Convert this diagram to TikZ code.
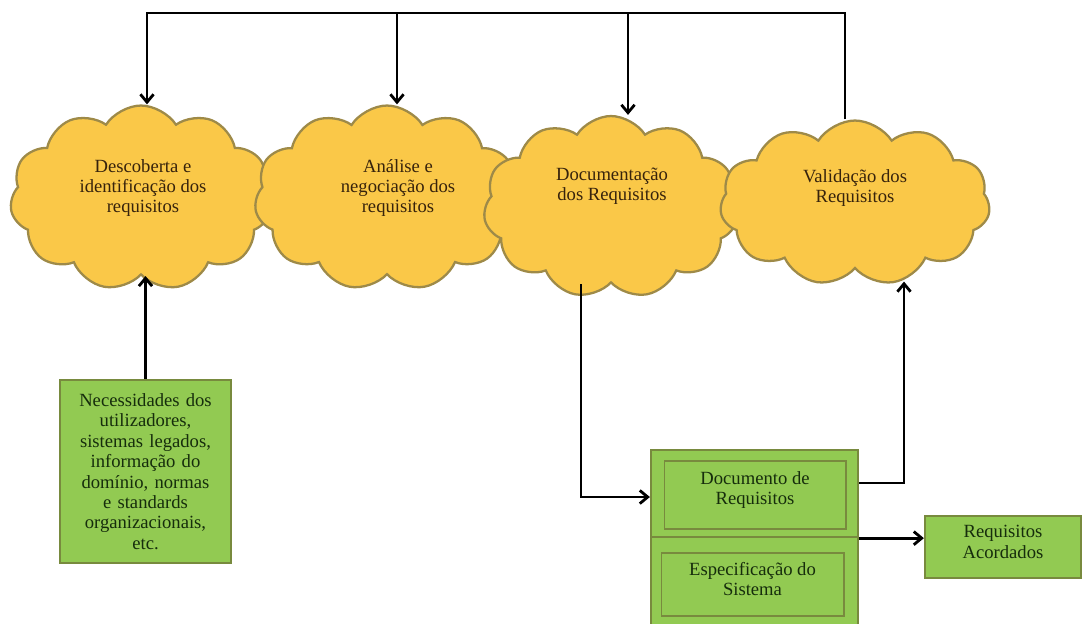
\documentclass[tikz,border=0pt]{standalone}
\usepackage{fontspec}
\setmainfont{Liberation Serif}
\usetikzlibrary{shapes,arrows,arrows.meta,positioning,calc}
\definecolor{cloudfill}{RGB}{250,200,72}
\definecolor{cloudline}{RGB}{158,138,72}
\definecolor{cloudtext}{RGB}{55,35,12}
\definecolor{boxfill}{RGB}{146,202,82}
\definecolor{boxline}{RGB}{120,138,62}
\definecolor{boxtext}{RGB}{22,45,12}
\begin{document}
\begin{tikzpicture}[x=0.02cm, y=-0.02cm,
    every node/.style={font=\fontsize{10.6}{11.6}\selectfont},
    puff/.style={cloud, cloud puffs=11, cloud puff arc=115, draw=cloudline,
        fill=cloudfill, line width=1.3pt, inner sep=0pt},
    cloudlabel/.style={align=center, text=cloudtext, inner sep=0pt},
    greenbox/.style={rectangle, draw=boxline, fill=boxfill, line width=1.3pt,
        align=center, text=boxtext},
    inbox/.style={rectangle, draw=boxline, line width=0.6pt, align=center, text=boxtext},
    flow/.style={-{Straight Barb[length=4.5pt,width=7.5pt]}, line width=1.6pt}]
    \useasboundingbox (0,0) rectangle (1088,623);

    % clouds
    \node[puff, minimum width=5.24cm, minimum height=3.7cm] (desc) at (141,198) {};
    \node[cloudlabel] (desctext) at (143,188) {Descoberta e\\identificação dos\\requisitos};
    \node[puff, minimum width=5.3cm, minimum height=3.7cm] (ana) at (387,198) {};
    \node[cloudlabel] (anatext) at (398,188) {Análise e\\negociação dos\\requisitos};
    \node[puff, minimum width=5.1cm, minimum height=3.64cm] (doc) at (611,207) {};
    \node[cloudlabel] (doctext) at (612,186) {Documentação\\dos Requisitos};
    \node[puff, minimum width=5.4cm, minimum height=3.3cm] (val) at (855,203) {};
    \node[cloudlabel] (valtext) at (855,188) {Validação dos\\Requisitos};

    % boxes
    \node[greenbox, minimum width=3.34cm, minimum height=3.66cm, text width=3.2cm]
        (needs) at (145.5,471.5)
        {Necessidades dos\\utilizadores,\\sistemas legados,\\informação do\\domínio, normas\\e standards\\organizacionais,\\etc.};
    \node[greenbox, minimum width=4.14cm, minimum height=1.74cm] (docreq) at (754.5,493.5) {};
    \node[greenbox, minimum width=4.14cm, minimum height=1.8cm] (spec) at (754.5,582) {};
    \node[inbox, minimum width=3.64cm, minimum height=1.36cm] (docin) at (755,495) {};
    \node[cloudlabel, text=boxtext] (docintext) at (755,490) {Documento de\\Requisitos};
    \node[inbox, minimum width=3.66cm, minimum height=1.26cm] (specin) at (752.5,584.5) {};
    \node[cloudlabel, text=boxtext] (specintext) at (752.5,579) {Especificação do\\Sistema};
    \node[greenbox, minimum width=3.12cm, minimum height=1.24cm] (agreed) at (1003,547) {};
    \node[cloudlabel, text=boxtext] (agreedtext) at (1003,542) {Requisitos\\Acordados};

    % loop on top
    \coordinate (t1) at (147,13);
    \coordinate (t2) at (397,13);
    \coordinate (t3) at (628,13);
    \coordinate (t4) at (845,13);
    \draw[flow] (val.north -| t4) -- (t4) -- (t1) -- (t1 |- desc.north);
    \draw[flow] (t2) -- (t2 |- ana.north);
    \draw[flow] (t3) -- (t3 |- doc.north);

    \draw[flow] (needs.north) -- (needs.north |- desc.south);
    \coordinate (c1) at (581,497);
    \draw[flow] (doc.south -| c1) -- (c1) -- (docreq.west |- c1);
    \coordinate (r1) at (904,483);
    \draw[flow] (docreq.east |- r1) -- (r1) -- (r1 |- val.-60);
    \draw[flow] (docreq.south east) -- (agreed.west |- docreq.south east);
\end{tikzpicture}
\end{document}
